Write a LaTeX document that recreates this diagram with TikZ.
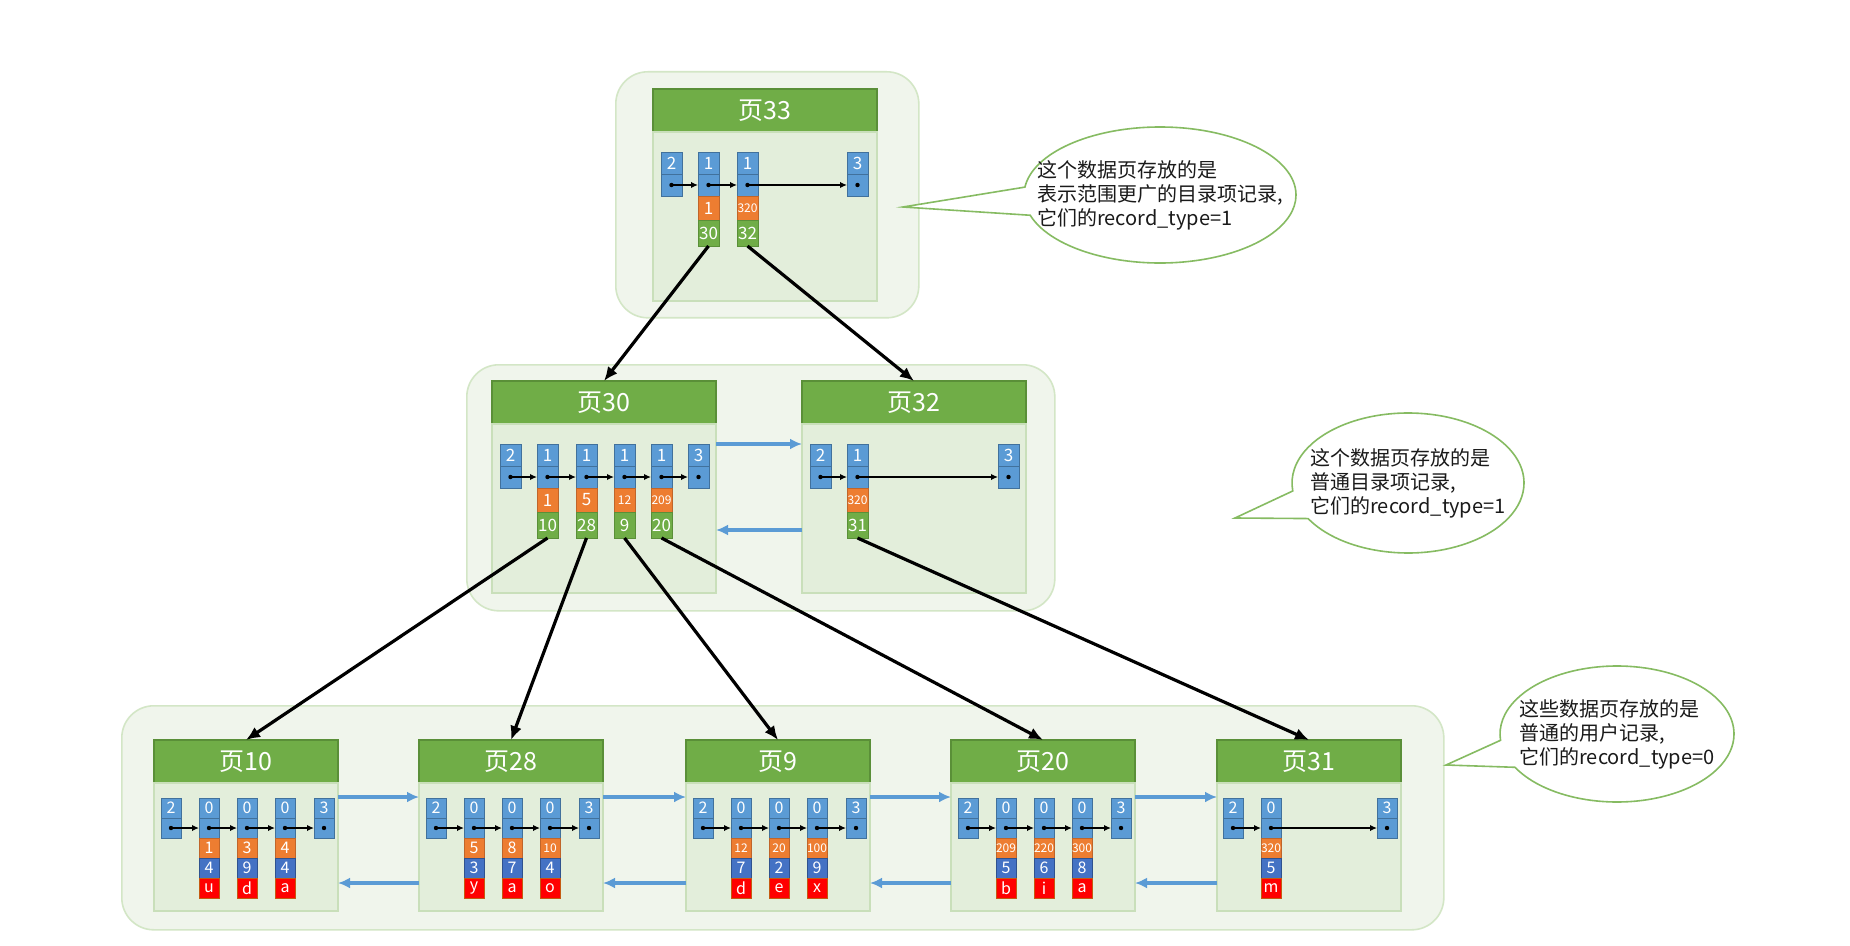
\documentclass[tikz,border=0pt]{standalone}
\usepackage{fontspec}
\setmainfont{Noto Sans CJK SC}
\usepackage{tikz}
\usetikzlibrary{arrows.meta,positioning,shapes.callouts}
\definecolor{GrpFill}{HTML}{F0F5EC}
\definecolor{GrpLine}{HTML}{D3E6C6}
\definecolor{BodyFill}{HTML}{E3EEDB}
\definecolor{BodyLine}{HTML}{C9DFBA}
\definecolor{PgGreen}{HTML}{70AD47}
\definecolor{PgGreenD}{HTML}{5A8F38}
\definecolor{CellBlue}{HTML}{5B9BD5}
\definecolor{CellBlueD}{HTML}{41719C}
\definecolor{KeyOrange}{HTML}{ED7D31}
\definecolor{KeyOrangeD}{HTML}{C0652A}
\definecolor{ColBlue}{HTML}{4472C4}
\definecolor{ColBlueD}{HTML}{2F528F}
\definecolor{ColRed}{HTML}{FF0000}
\definecolor{ColRedD}{HTML}{C55A11}
\definecolor{LinkBlue}{HTML}{5B9BD5}
\definecolor{NoteLine}{HTML}{86BB62}
\definecolor{TextDark}{HTML}{1A1A1A}
\tikzset{
  grp/.style={draw=GrpLine, fill=GrpFill, line width=0.8pt, rounded corners=16pt,
              anchor=north west, inner sep=0pt},
  pghead/.style={draw=PgGreenD, fill=PgGreen, text=white, line width=0.6pt,
                 anchor=north west, minimum height=21.5pt, inner sep=0pt, outer sep=0pt,
                 font=\fontsize{12.5}{12.5}\selectfont},
  pgbody/.style={draw=BodyLine, fill=BodyFill, line width=0.6pt, minimum height=84.5pt,
                 inner sep=0pt, outer sep=0pt},
  cell/.style={draw=CellBlueD, fill=CellBlue, text=white, line width=0.4pt,
               minimum width=10.5pt, minimum height=11pt, inner sep=0pt, outer sep=0pt,
               font=\fontsize{8.5}{8.5}\selectfont},
  key/.style={cell, draw=KeyOrangeD, fill=KeyOrange, minimum height=12pt},
  child/.style={cell, draw=PgGreenD, fill=PgGreen, minimum height=13pt},
  col2/.style={cell, draw=ColBlueD, fill=ColBlue},
  col3/.style={cell, draw=ColRedD, fill=ColRed},
  link/.style={-{Latex[length=3.5pt,width=3.2pt]}, line width=0.75pt},
  sib/.style={-{Latex[length=6pt,width=5.5pt]}, line width=1.6pt, draw=LinkBlue},
  tree/.style={-{Latex[length=7pt,width=6pt]}, line width=1.6pt},
  note/.style={ellipse callout, draw=NoteLine, fill=white, line width=0.8pt,
               callout pointer arc=24, inner sep=0pt},
  notetext/.style={align=left, inner sep=0pt, text=TextDark,
                   font=\fontsize{10}{12}\selectfont}
}
\newcommand{\sk}{\fontsize{6}{6}\selectfont}
\newcommand{\recdy}{10pt}
% #1 page name, #2 header corner, #3 width, #4 page number
\newcommand{\pagebox}[4]{%
  \node[pghead, minimum width=#3] (#1h) at (#2) {页#4};
  \node[pgbody, minimum width=#3, below=0pt of #1h] (#1b) {};
}
% #1 page, #2 slot, #3 x offset, #4 record type
\newcommand{\rec}[4]{%
  \node[cell, anchor=north west] (#1-#2-t) at ([xshift=#3, yshift=-\recdy]#1b.north west) {#4};
  \node[cell, below=0pt of #1-#2-t] (#1-#2-p) {};
  \fill (#1-#2-p.center) circle (1.1pt);
}
% directory record: key, child page
\newcommand{\dirrec}[4]{%
  \node[key, below=0pt of #1-#2-p] (#1-#2-k) {#3};
  \node[child, below=0pt of #1-#2-k] (#1-#2-c) {#4};
}
% user record: key, two columns
\newcommand{\userrec}[5]{%
  \node[key, below=0pt of #1-#2-p] (#1-#2-k) {#3};
  \node[col2, below=0pt of #1-#2-k] (#1-#2-v) {#4};
  \node[col3, below=0pt of #1-#2-v] (#1-#2-c) {#5};
}

\begin{document}
\begin{tikzpicture}[x=0.5pt, y=-0.5pt]
  \path[use as bounding box, fill=white] (0,0) rectangle (1850,946);

  % levels
  \node[grp, minimum width=151.5pt, minimum height=123pt] (groot) at (615,71) {};
  \node[grp, minimum width=294pt, minimum height=123pt] (gdir) at (466,364) {};
  \node[grp, minimum width=661pt, minimum height=112pt] (gleaf) at (121,705) {};

  % root page
  \pagebox{p33}{653,89}{112pt}{33}
  \foreach \i/\x/\ty in {0/4pt/2, 1/22.5pt/1, 2/42pt/1, 5/97pt/3}
    {\rec{p33}{\i}{\x}{\ty}}
  \dirrec{p33}{1}{1}{30}
  \dirrec{p33}{2}{\sk 320}{32}
  \foreach \a/\b in {0/1, 1/2, 2/5}
    {\draw[link] (p33-\a-p.center) -- (p33-\b-p.west);}

  % directory pages
  \pagebox{p30}{492,381}{112pt}{30}
  \foreach \i/\x/\ty in {0/4pt/2, 1/22.5pt/1, 2/42pt/1, 3/61pt/1, 4/79.5pt/1, 5/98pt/3}
    {\rec{p30}{\i}{\x}{\ty}}
  \dirrec{p30}{1}{1}{10}
  \dirrec{p30}{2}{5}{28}
  \dirrec{p30}{3}{\sk 12}{9}
  \dirrec{p30}{4}{\sk 209}{20}
  \foreach \a/\b in {0/1, 1/2, 2/3, 3/4, 4/5}
    {\draw[link] (p30-\a-p.center) -- (p30-\b-p.west);}

  \pagebox{p32}{802,381}{112pt}{32}
  \foreach \i/\x/\ty in {0/4pt/2, 1/22.5pt/1, 5/98pt/3}
    {\rec{p32}{\i}{\x}{\ty}}
  \dirrec{p32}{1}{\sk 320}{31}
  \foreach \a/\b in {0/1, 1/5}
    {\draw[link] (p32-\a-p.center) -- (p32-\b-p.west);}

  \draw[sib] ([yshift=-10pt]p30b.north east) -- ([yshift=-10pt]p32b.north west);
  \draw[sib] ([yshift=-53pt]p32b.north west) -- ([yshift=-53pt]p30b.north east);

  % leaf pages
  \begin{scope}[cell/.append style={minimum width=10pt, minimum height=10pt,
                                    font=\fontsize{8}{8}\selectfont},
                key/.append style={minimum height=10pt},
                pgbody/.append style={minimum height=64pt}]
    \renewcommand{\recdy}{7.5pt}
    \foreach \pg/\px/\lbl in {p10/154/10, p28/419/28, p9/686/9, p20/951/20} {
      \pagebox{\pg}{\px,740}{92pt}{\lbl}
      \foreach \i/\x/\ty in {0/3.5pt/2, 1/22.5pt/0, 2/41.5pt/0, 3/60.5pt/0, 4/80pt/3}
        {\rec{\pg}{\i}{\x}{\ty}}
      \foreach \a/\b in {0/1, 1/2, 2/3, 3/4}
        {\draw[link] (\pg-\a-p.center) -- (\pg-\b-p.west);}
    }
    \userrec{p10}{1}{1}{4}{u}
    \userrec{p10}{2}{3}{9}{d}
    \userrec{p10}{3}{4}{4}{a}
    \userrec{p28}{1}{5}{3}{y}
    \userrec{p28}{2}{8}{7}{a}
    \userrec{p28}{3}{\sk 10}{4}{o}
    \userrec{p9}{1}{\sk 12}{7}{d}
    \userrec{p9}{2}{\sk 20}{2}{e}
    \userrec{p9}{3}{\sk 100}{9}{x}
    \userrec{p20}{1}{\sk 209}{5}{b}
    \userrec{p20}{2}{\sk 220}{6}{i}
    \userrec{p20}{3}{\sk 300}{8}{a}

    \pagebox{p31}{1217,740}{92pt}{31}
    \foreach \i/\x/\ty in {0/3pt/2, 1/22pt/0, 4/80pt/3}
      {\rec{p31}{\i}{\x}{\ty}}
    \userrec{p31}{1}{\sk 320}{5}{m}
    \foreach \a/\b in {0/1, 1/4}
      {\draw[link] (p31-\a-p.center) -- (p31-\b-p.west);}
  \end{scope}

  \foreach \a/\b in {p10b/p28b, p28b/p9b, p9b/p20b, p20b/p31b} {
    \draw[sib] ([yshift=-7pt]\a.north east) -- ([yshift=-7pt]\b.north west);
    \draw[sib] ([yshift=-50pt]\b.north west) -- ([yshift=-50pt]\a.north east);
  }

  % child pointers
  \draw[tree] (p33-1-c.south) -- (p30h.north);
  \draw[tree] (p33-2-c.south) -- (p32h.north);
  \draw[tree] (p30-1-c.south) -- (p10h.north);
  \draw[tree] (p30-2-c.south) -- (p28h.north);
  \draw[tree] (p30-3-c.south) -- (p9h.north);
  \draw[tree] (p30-4-c.south) -- (p20h.north);
  \draw[tree] (p32-1-c.south) -- (p31h.north);

  % notes
  \coordinate (tiproot) at (903,207);
  \coordinate (tipdir) at (1235,518);
  \coordinate (tipleaf) at (1446,765);
  \node[note, minimum width=136pt, minimum height=68pt,
        callout absolute pointer={(tiproot)}] (nroot) at (1160,195) {};
  \node[notetext] (nroott) at (nroot.center)
    {这个数据页存放的是\\表示范围更广的目录项记录,\\它们的record\_type=1};
  \node[note, minimum width=116pt, minimum height=70pt,
        callout absolute pointer={(tipdir)}] (ndir) at (1408,483) {};
  \node[notetext] (ndirt) at (ndir.center)
    {这个数据页存放的是\\普通目录项记录,\\它们的record\_type=1};
  \node[note, minimum width=117pt, minimum height=68pt,
        callout absolute pointer={(tipleaf)}] (nleaf) at (1617,734) {};
  \node[notetext] (nleaft) at (nleaf.center)
    {这些数据页存放的是\\普通的用户记录,\\它们的record\_type=0};
\end{tikzpicture}
\end{document}
